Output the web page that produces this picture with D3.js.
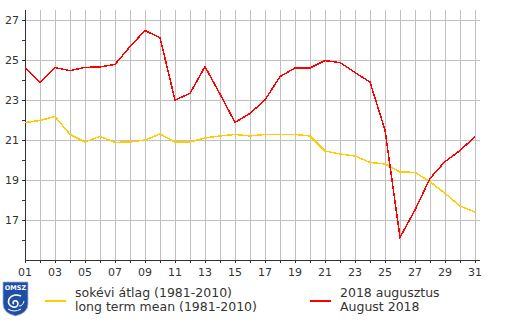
<!DOCTYPE html>
<html>
<head>
<meta charset="utf-8">
<script src="https://cdn.jsdelivr.net/npm/d3@7"></script>
<style>
  body { margin: 0; background: #fff; }
  svg { display: block; font-family: "DejaVu Sans", Verdana, sans-serif; }
</style>
</head>
<body>
<div id="chart"></div>
<script>
// days of August
var dayLabels = ['01','02','03','04','05','06','07','08','09','10','11','12','13','14','15','16',
                 '17','18','19','20','21','22','23','24','25','26','27','28','29','30','31'];

// long term mean (1981-2010)
var meanVals = [21.87, 21.98, 22.17, 21.28, 20.9, 21.18, 20.88, 20.9, 21.0, 21.3, 20.9, 20.9, 21.1, 21.2,
                21.28, 21.2, 21.28, 21.28, 21.28, 21.2, 20.45, 20.3, 20.2, 19.88, 19.8, 19.4, 19.38,
                18.92, 18.33, 17.7, 17.4];

// August 2018
var augVals = [24.62, 23.87, 24.62, 24.47, 24.63, 24.65, 24.78, 25.67, 26.47, 26.12, 23.0, 23.33, 24.67,
               23.3, 21.88, 22.33, 23.0, 24.17, 24.6, 24.6, 24.97, 24.87, 24.37, 23.9, 21.5, 16.13, 17.5,
               19.08, 19.92, 20.47, 21.17];

var yMajor = [17, 19, 21, 23, 25, 27];
var yMinor = [16, 18, 20, 22, 24, 26];

var legendItems = [
  {color: '#ffcc00', lines: ['sokévi átlag (1981-2010)', 'long term mean (1981-2010)']},
  {color: '#ff0000', lines: ['2018 augusztus', 'August 2018']}
];

var width = 505, height = 320;
var margin = {top: 10, right: 25, bottom: 60, left: 25};

var svg = d3.select('#chart').append('svg')
    .attr('width', width).attr('height', height);

var x = d3.scaleLinear().domain([1, 31]).range([25, 475]);
var y = d3.scaleLinear().domain([15, 27.5]).range([height - margin.bottom, margin.top]);
var plotRight = width - margin.right;

// grid
var grid = svg.append('g').attr('shape-rendering', 'crispEdges').attr('stroke', '#c0c0c0');
grid.selectAll('.vg')
    .data(dayLabels.slice(1))
    .join('line')
    .attr('x1', (d, i) => x(i + 2)).attr('x2', (d, i) => x(i + 2))
    .attr('y1', y.range()[1]).attr('y2', y.range()[0]);
grid.selectAll('.hg')
    .data(yMajor)
    .join('line')
    .attr('x1', x.range()[0]).attr('x2', plotRight)
    .attr('y1', d => y(d)).attr('y2', d => y(d));

// axes
var axes = svg.append('g').attr('shape-rendering', 'crispEdges').attr('stroke', '#333');
axes.append('line')
    .attr('x1', x.range()[0]).attr('x2', x.range()[0])
    .attr('y1', y.range()[1]).attr('y2', y.range()[0]);
axes.append('line')
    .attr('x1', x.range()[0]).attr('x2', plotRight)
    .attr('y1', y.range()[0]).attr('y2', y.range()[0]);
axes.selectAll('.yt')
    .data(yMajor.concat(yMinor))
    .join('line')
    .attr('x1', x.range()[0] - 3).attr('x2', x.range()[0])
    .attr('y1', d => y(d)).attr('y2', d => y(d));
axes.selectAll('.xt')
    .data(dayLabels)
    .join('line')
    .attr('x1', (d, i) => x(i + 1)).attr('x2', (d, i) => x(i + 1))
    .attr('y1', y.range()[0]).attr('y2', y.range()[0] + 3);

// tick labels
svg.append('g').selectAll('text')
    .data(yMajor)
    .join('text')
    .attr('x', 19).attr('y', d => y(d))
    .attr('dy', '0.35em')
    .attr('text-anchor', 'end')
    .attr('font-size', 11).attr('fill', '#333')
    .text(d => d);

svg.append('g').selectAll('text')
    .data(dayLabels.filter((d, i) => i % 2 == 0))
    .join('text')
    .attr('x', d => x(+d)).attr('y', 276)
    .attr('text-anchor', 'middle')
    .attr('font-size', 11).attr('fill', '#333')
    .text(d => d);

// series lines
var line = d3.line().x((d, i) => x(i + 1)).y(d => y(d));

svg.append('path')
    .datum(meanVals)
    .attr('fill', 'none').attr('stroke', '#ffcc00').attr('stroke-width', 1.5)
    .attr('shape-rendering', 'crispEdges')
    .attr('d', line);

svg.append('path')
    .datum(augVals)
    .attr('fill', 'none').attr('stroke', '#ff0000').attr('stroke-width', 1.5)
    .attr('shape-rendering', 'crispEdges')
    .attr('d', line);

// legend
var legend = svg.append('g');
var legendX = [45, 310];
legendItems.forEach((item, k) => {
    var g = legend.append('g').attr('transform', `translate(${legendX[k]},0)`);
    g.append('line')
        .attr('x1', 0).attr('x2', 21).attr('y1', 301).attr('y2', 301)
        .attr('stroke', item.color).attr('stroke-width', 2);
    g.selectAll('text')
        .data(item.lines)
        .join('text')
        .attr('x', 30).attr('y', (d, i) => 297 + i * 14)
        .attr('font-size', 12.5).attr('fill', '#333')
        .text(d => d);
});

// OMSZ logo
var logo = svg.append('g');
logo.append('path')
    .attr('d', 'M3,282 H28 V304 Q28,313 15.5,316 Q3,313 3,304 Z')
    .attr('fill', '#1f4fa3').attr('stroke', '#9fb4da').attr('stroke-width', 0.8);
logo.append('text')
    .attr('x', 15.5).attr('y', 290)
    .attr('text-anchor', 'middle')
    .attr('font-size', 6.5).attr('font-weight', 'bold').attr('fill', '#fff')
    .text('OMSZ');
logo.append('path')
    .attr('d', 'M21,296 Q13,293 9,299 Q7,305 13,307 Q18,308 18,303 Q17,300 14,301 Q12,303 14,304')
    .attr('fill', 'none').attr('stroke', '#fff').attr('stroke-width', 1.6);
logo.append('path')
    .attr('d', 'M19,306 Q23,306 24,301 M8,309 Q14,313 21,309')
    .attr('fill', 'none').attr('stroke', '#fff').attr('stroke-width', 1);
</script>
</body>
</html>
